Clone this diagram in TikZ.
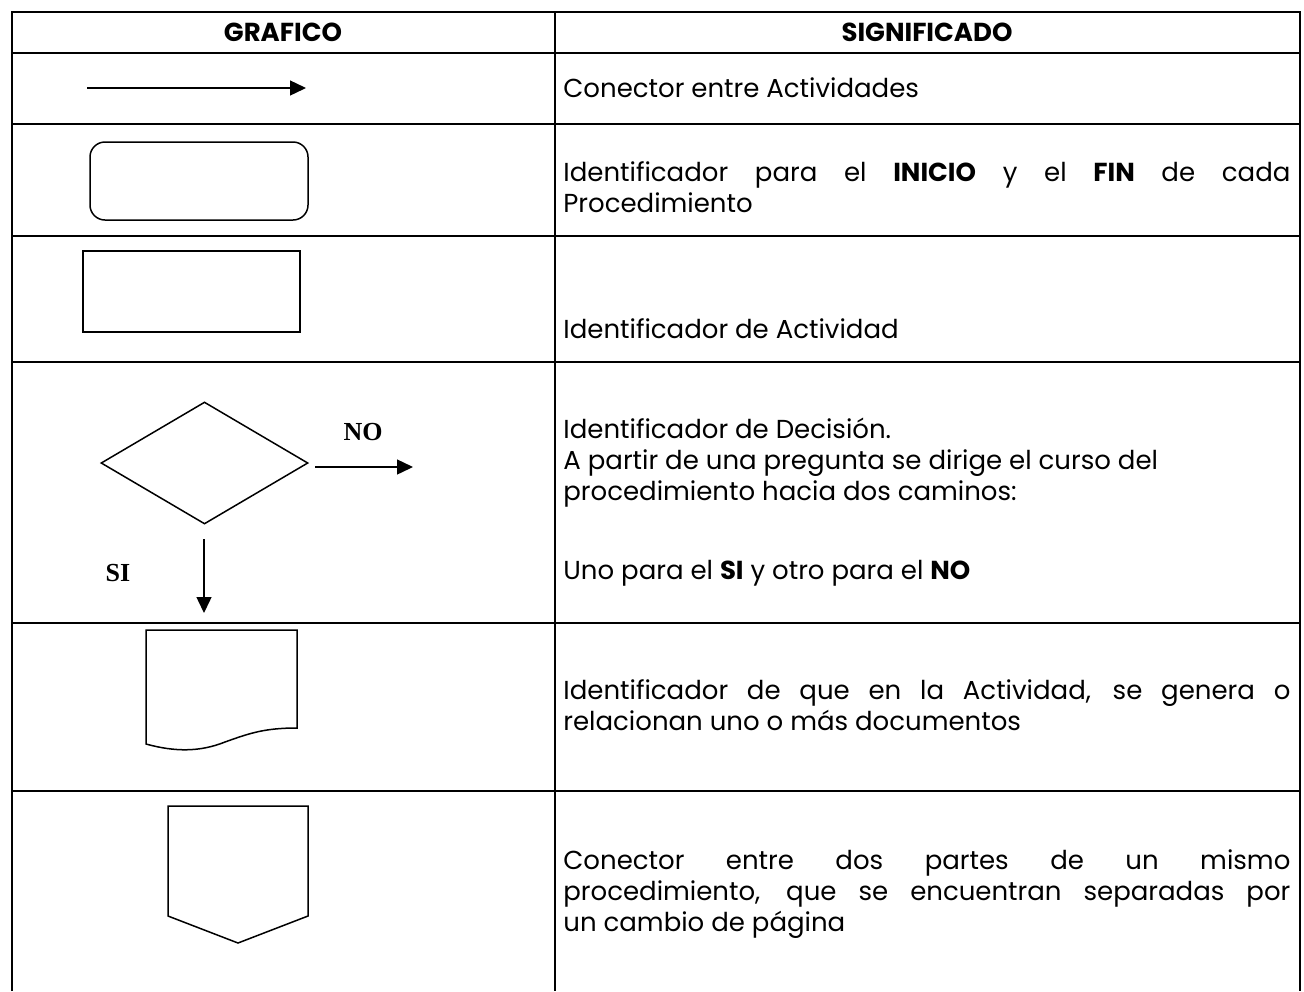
\documentclass[tikz,border=0pt]{standalone}
\usepackage{fontspec}
\setmainfont{Poppins}
\newfontfamily\lblfont{Liberation Serif}
\usetikzlibrary{positioning,shapes.geometric,arrows.meta}

\tikzset{
  tabline/.style={line width=1.1pt},
  shp/.style={draw, line width=0.75pt, inner sep=0pt},
  conn/.style={line width=0.7pt, -{Triangle[length=8pt,width=7.5pt]}},
  txt/.style={inner sep=0pt, anchor=west, font=\fontsize{13}{15.5}\selectfont},
  jtxt/.style={txt, text width=363.5pt, align=justify},
  head/.style={inner sep=0pt, font=\bfseries\fontsize{13}{15.5}\selectfont},
  yn/.style={inner sep=0pt, font=\lblfont\bfseries\fontsize{13}{15}\selectfont}
}

\begin{document}
\begin{tikzpicture}[x=0.5pt,y=-0.5pt]
    \useasboundingbox (0,0) rectangle (1304,991);

    % Table rules
    \draw[tabline] (12,991) -- (12,12) -- (1300,12) -- (1300,991);
    \draw[tabline] (555,12) -- (555,991);
    \foreach \y in {53,124,236,362,623,791}
        \draw[tabline] (12,\y) -- (1300,\y);

    % Headers
    \node[head] (hgraf) at (283,32) {GRAFICO};
    \node[head] (hsig) at (927,32) {SIGNIFICADO};

    % Connector
    \coordinate (c1) at (87,88);
    \coordinate (c2) at (306,88);
    \draw[conn] (c1) -- (c2);
    \node[txt] (t1) at (563,88) {Conector entre Actividades};

    % Start / end
    \node[shp, rounded corners=7.5pt, minimum width=109pt, minimum height=39pt] (term) at (199,181) {};
    \node[jtxt] (t2) at (563,187) {Identificador para el \textbf{INICIO} y el \textbf{FIN} de cada\linebreak Procedimiento};

    % Activity
    \node[shp, minimum width=108.5pt, minimum height=40.5pt] (act) at (191.5,291.5) {};
    \node[txt] (t3) at (563,329) {Identificador de Actividad};

    % Decision
    \node[shp, diamond, minimum width=103.5pt, minimum height=61pt] (dec) at (204.5,463) {};
    \coordinate (no1) at (315,467);
    \coordinate (no2) at (413,467);
    \draw[conn] (no1) -- (no2);
    \node[yn] (no) at (363,432) {NO};
    \coordinate (si1) at (204,539);
    \coordinate (si2) at (204,613);
    \draw[conn] (si1) -- (si2);
    \node[yn] (si) at (118,573) {SI};
    \node[txt, align=left] (t4a) at (563,463) {Identificador de Decisión.\\A partir de una pregunta se dirige el curso del\\procedimiento hacia dos caminos:};
    \node[txt] (t4b) at (563,573) {Uno para el \textbf{SI} y otro para el \textbf{NO}};

    % Document
    \draw[shp] (146,744) -- (146,630) -- (297,630) -- (297,728)
        .. controls (265,728) and (250,733) .. (225,742)
        .. controls (200,752) and (175,752) .. (146,744) -- cycle;
    \node[jtxt] (t5) at (563,705.5) {Identificador de que en la Actividad, se genera o\linebreak relacionan uno o más documentos};

    % Off-page connector
    \draw[shp] (168,806) -- (308,806) -- (308,916) -- (238,943) -- (168,916) -- cycle;
    \node[jtxt] (t6) at (563,894) {Conector entre dos partes de un mismo\linebreak procedimiento, que se encuentran separadas por\linebreak un cambio de página};
\end{tikzpicture}
\end{document}
